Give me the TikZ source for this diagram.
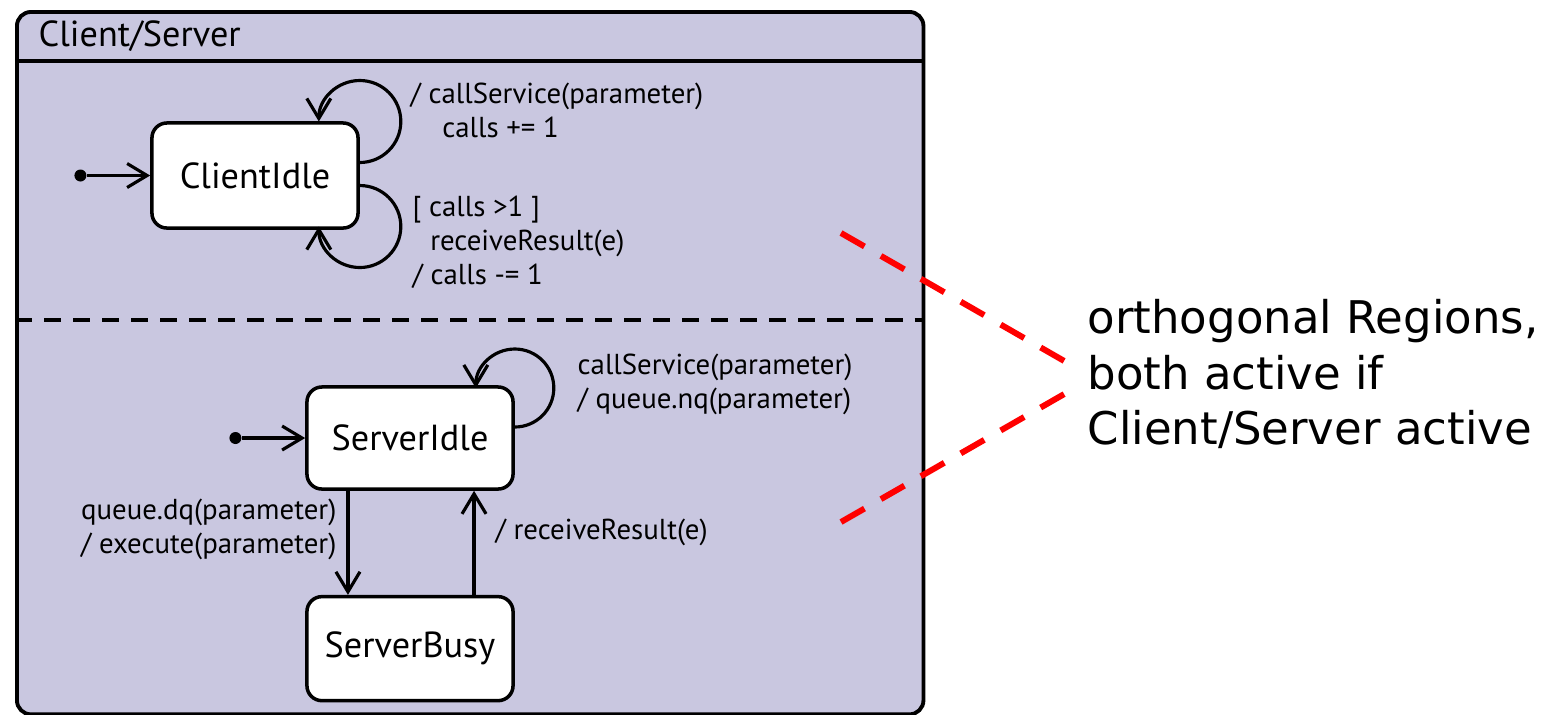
\documentclass[tikz,border=0pt]{standalone}
\usepackage{fontspec}
\setmainfont{PT Sans}
\newfontfamily\notefont{DejaVu Sans}
\usepackage{xcolor}
\usetikzlibrary{positioning,arrows.meta}
\definecolor{regionfill}{RGB}{201,199,224}

\begin{document}
\begin{tikzpicture}[
        x=0.01cm, y=0.01cm,
        state/.style={rectangle, draw, line width=1pt, fill=white, rounded corners=0.15cm, minimum width=2.06cm, minimum height=1.04cm, font=\fontsize{10.3}{12}\selectfont},
        trans/.style={align=left, inner sep=0pt, font=\fontsize{8.2}{9.7}\selectfont},
        init/.style={circle, fill, inner sep=0pt, minimum size=0.12cm},
        arrow/.style={-{Straight Barb[length=0.2cm,width=0.24cm]}, line width=0.9pt},
        hint/.style={red, line width=1.7pt, dash pattern=on 0.27cm off 0.19cm}
    ]
    \useasboundingbox (0,0) rectangle (1548,-714);

    % composite state with two regions
    \node[draw, line width=1.1pt, fill=regionfill, rounded corners=0.14cm, minimum width=9.06cm, minimum height=7.02cm, anchor=north west] (cs) at (15,-10) {};
    \node[anchor=west, inner sep=0pt, font=\fontsize{10.3}{12}\selectfont] (cstitle) at (38,-36) {Client/Server};
    \draw[line width=1pt] ([yshift=-0.51cm]cs.north west) -- ([yshift=-0.51cm]cs.north east);
    \draw[line width=1pt, dash pattern=on 0.17cm off 0.12cm] ([yshift=-3.1cm]cs.north west) -- ([yshift=-3.1cm]cs.north east);

    % client region
    \node[state, minimum height=1.05cm] (ci) at (255,-175.5) {ClientIdle};
    \node[init, left=0.63cm of ci] (ci0) {};
    \draw[arrow] (ci0) -- (ci);
    \draw[arrow] ([yshift=0.13cm]ci.east) arc[start angle=-90, end angle=180, radius=41];
    \draw[arrow] ([yshift=-0.1cm]ci.east) arc[start angle=90, end angle=-180, radius=41];
    \node[trans, anchor=west] (l1) at (410,-110) {/ callService(parameter)\\\hspace{9pt}calls += 1};
    \node[trans, anchor=west] (l2) at (412,-242) {[ calls >1 ]\\\hspace{5pt}receiveResult(e)\\/ calls -= 1};

    % server region
    \node[state, minimum height=1.02cm] (si) at (410,-438) {ServerIdle};
    \node[state, below=1.04cm of si] (sb) {ServerBusy};
    \node[init, left=0.63cm of si] (si0) {};
    \draw[arrow] (si0) -- (si);
    \draw[arrow] ([yshift=0.11cm]si.east) arc[start angle=-90, end angle=180, radius=39];
    \draw[arrow] ([xshift=-0.62cm]si.south) -- ([xshift=-0.62cm]sb.north);
    \draw[arrow] ([xshift=0.64cm]sb.north) -- ([xshift=0.64cm]si.south);
    \node[trans, anchor=west] (l3) at (577,-384.5) {callService(parameter)\\/ queue.nq(parameter)};
    \node[trans, align=right, anchor=east] (l4) at (337,-529.5) {queue.dq(parameter)\\/ execute(parameter)};
    \node[trans, anchor=west] (l5) at (495,-532) {/ receiveResult(e)};

    % note on the regions
    \node[anchor=west, align=left, inner sep=0pt, font=\notefont\fontsize{12.8}{15.8}\selectfont] (note) at (1087,-374) {orthogonal Regions,\\both active if\\Client/Server active};
    \coordinate (ra) at (841,-233);
    \coordinate (rb) at (841,-522);
    \draw[hint] (ra) -- ([shift={(-21,12)}]note.west);
    \draw[hint] (rb) -- ([shift={(-21,-19)}]note.west);

\end{tikzpicture}
\end{document}
